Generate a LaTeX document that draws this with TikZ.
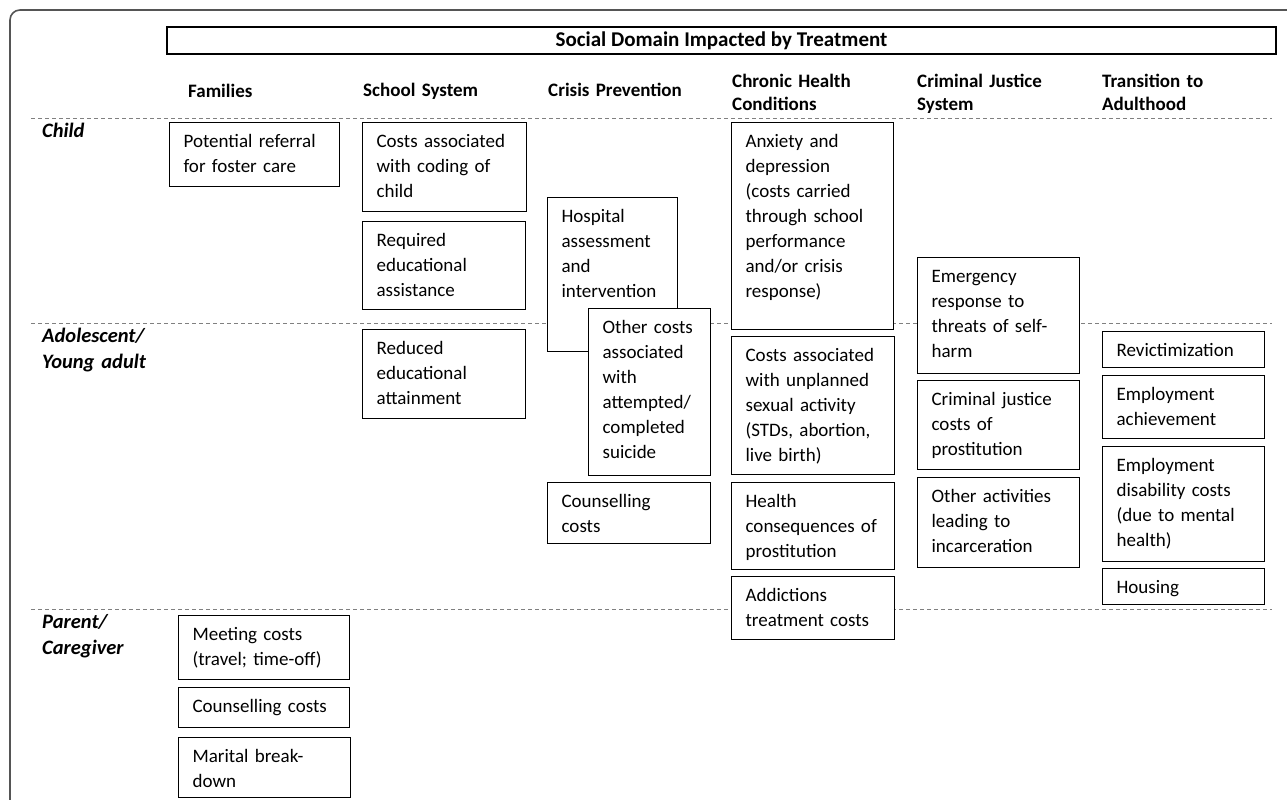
\documentclass[tikz,border=0pt]{standalone}
\usepackage{fontspec}
\setmainfont{Carlito}
\definecolor{framegray}{RGB}{85,85,85}
\definecolor{sepgray}{RGB}{128,128,128}
\tikzset{
  box/.style={draw=black, line width=1.2pt, fill=white, rectangle, anchor=north west,
    inner sep=0pt, align=left, text height=25pt, font=\fontsize{19pt}{25pt}\selectfont},
  head/.style={anchor=base west, inner sep=0pt, text width=180pt, align=left,
    font=\bfseries\fontsize{19pt}{23pt}\selectfont},
  rowlab/.style={anchor=base west, inner sep=0pt, text width=150pt, align=left,
    font=\bfseries\itshape\fontsize{20.5pt}{26pt}\selectfont},
  sepline/.style={draw=sepgray, line width=0.9pt, dash pattern=on 4pt off 3pt},
  framel/.style={draw=framegray, line width=1.6pt, rounded corners=10pt},
  titlebox/.style={draw=black, line width=1.2pt, rectangle, inner sep=0pt,
    minimum width=1109pt, minimum height=27pt, font=\bfseries\fontsize{21pt}{23pt}\selectfont}
}
\newcommand\cbox[6]{\node[box, text width=#4pt, text depth=#5pt] (#1) at (#2,#3) {\leftskip=14pt\relax #6\par};}
\begin{document}
\begin{tikzpicture}[x=1pt,y=-1pt]
\useasboundingbox (0,0) rectangle (1287,800);
% frame
\coordinate (fr1) at (1287,10);
\coordinate (fr2) at (10,10);
\coordinate (fr3) at (10,800);
\draw[framel] (fr1) -- (fr2) -- (fr3);
% separators
\coordinate (s1a) at (31,118); \coordinate (s1b) at (1272,118);
\coordinate (s2a) at (31,323); \coordinate (s2b) at (1272,323);
\coordinate (s3a) at (31,609); \coordinate (s3b) at (1272,609);
\draw[sepline] (s1a) -- (s1b);
\draw[sepline] (s2a) -- (s2b);
\draw[sepline] (s3a) -- (s3b);
% title
\node[titlebox] (title) at (721.5,40.5) {Social Domain Impacted by Treatment};
% headers
\node[head] (hfam) at (188,97) {Families};
\node[head] (hsch) at (363,96) {School System};
\node[head] (hcri) at (548,96) {Crisis Prevention};
\node[head] (hchr) at (732,87) {Chronic Health\\Conditions};
\node[head] (hcjs) at (917,87) {Criminal Justice\\System};
\node[head] (htra) at (1102,87) {Transition to\\Adulthood};
% row labels
\node[rowlab] (rchild) at (42,137) {Child};
\node[rowlab] (radol) at (42,342) {Adolescent/\\Young adult};
\node[rowlab] (rpar) at (42,628) {Parent/\\Caregiver};
% Families
\cbox{pot}{169}{122}{170}{39}{Potential referral\\for foster care}
\cbox{mee}{178}{615}{171}{39}{Meeting costs\\(travel; time-off)}
\cbox{cnc}{178}{687}{171}{15}{Counselling costs}
\cbox{mar}{178}{737}{172}{35}{Marital break-\\down}
% School system
\cbox{cod}{362}{122}{164}{64}{Costs associated\\with coding of\\child}
\cbox{req}{362}{221}{163}{63}{Required\\educational\\assistance}
\cbox{red}{362}{329}{163}{64}{Reduced\\educational\\attainment}
% Crisis prevention
\cbox{hos}{547}{197}{130}{129}{Hospital\\assessment\\and\\intervention}
\cbox{oth}{588}{308}{122}{142}{Other costs\\associated\\with\\attempted/\\completed\\suicide}
\cbox{cou}{547}{482}{163}{36}{Counselling\\costs}
% Chronic health
\cbox{anx}{731}{122}{162}{182}{Anxiety and\\depression\\(costs carried\\through school\\performance\\and/or crisis\\response)}
\cbox{unp}{731}{336}{163}{113}{Costs associated\\with unplanned\\sexual activity\\(STDs, abortion,\\live birth)}
\cbox{hea}{731}{482}{163}{62}{Health\\consequences of\\prostitution}
\cbox{add}{731}{576}{163}{38}{Addictions\\treatment costs}
% Criminal justice
\cbox{eme}{917}{257}{162}{91}{Emergency\\response to\\threats of self-\\harm}
\cbox{crj}{917}{380}{162}{64}{Criminal justice\\costs of\\prostitution}
\cbox{act}{917}{477}{162}{65}{Other activities\\leading to\\incarceration}
% Transition
\cbox{rev}{1102}{331}{162}{11}{Revictimization}
\cbox{ema}{1102}{375}{162}{38}{Employment\\achievement}
\cbox{emd}{1102}{446}{162}{90}{Employment\\disability costs\\(due to mental\\health)}
\cbox{hou}{1102}{568}{162}{11}{Housing}
\end{tikzpicture}
\end{document}
